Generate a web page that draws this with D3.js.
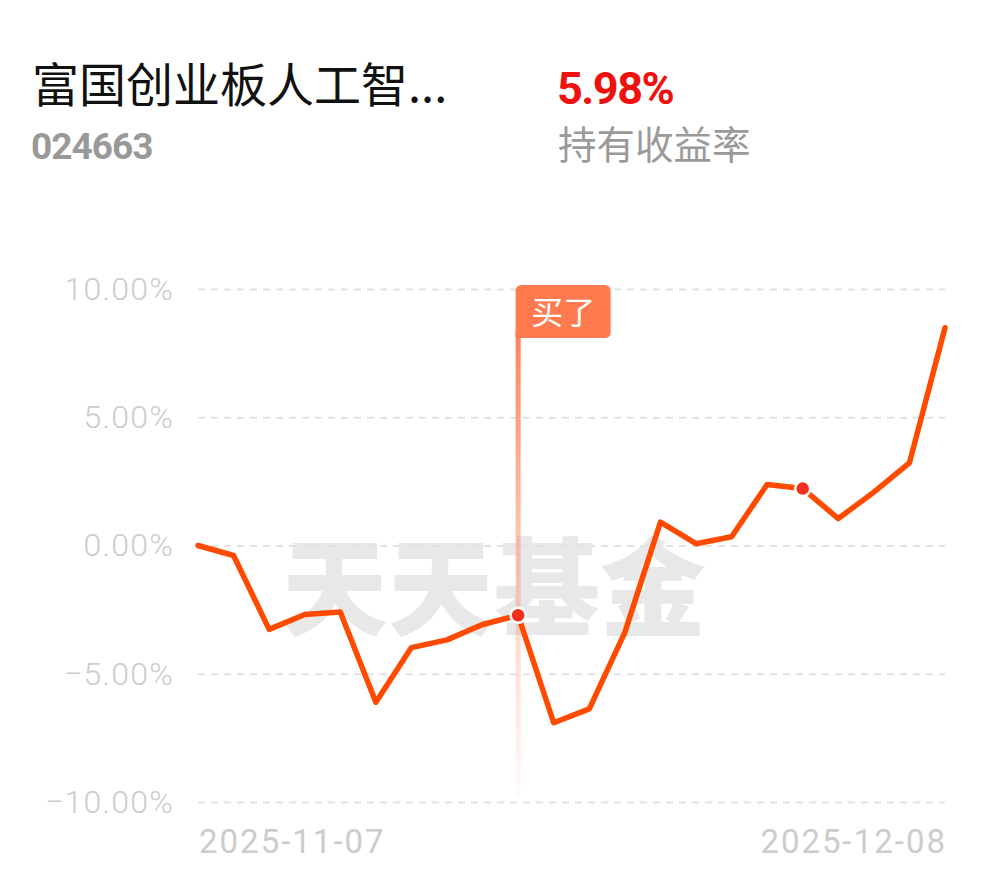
<!DOCTYPE html>
<html>
<head>
<meta charset="utf-8">
<script src="https://cdn.jsdelivr.net/npm/d3@7/dist/d3.min.js"></script>
<style>
  html, body { margin: 0; padding: 0; background: #fff; }
  svg { display: block; }
</style>
</head>
<body>
<svg id="chart" width="990" height="878"></svg>
<script>
// ---- data ----
const fundName = "富国创业板人工智...";
const fundCode = "024663";
const holdReturn = "5.98%";
const holdReturnLabel = "持有收益率";
const watermarkText = "天天基金";
const buyLabel = "买了";

const dates = ["2025-11-07","2025-11-10","2025-11-11","2025-11-12","2025-11-13","2025-11-14",
  "2025-11-17","2025-11-18","2025-11-19","2025-11-20","2025-11-21","2025-11-24","2025-11-25",
  "2025-11-26","2025-11-27","2025-11-28","2025-12-01","2025-12-02","2025-12-03","2025-12-04",
  "2025-12-05","2025-12-08"];
const returns = [0.00, -0.39, -3.27, -2.69, -2.59, -6.11, -3.98, -3.68, -3.08, -2.72, -6.91, -6.37,
  -3.39, 0.91, 0.07, 0.34, 2.38, 2.22, 1.05, 2.08, 3.22, 8.49];
const yTicks = [10, 5, 0, -5, -10];
const xTickLabels = ["2025-11-07", "2025-12-08"];
const buyIndex = 9;
const markerIndices = [9, 17];

(function () {
// ---- layout ----
const svg = d3.select("#chart");
const pL = 198, pR = 945, pT = 289, pB = 802;

const x = d3.scalePoint().domain(d3.range(dates.length)).range([pL, pR]);
const y = d3.scaleLinear().domain([-10, 10]).range([pB, pT]);

// header
svg.append("text").attr("x", 32).attr("y", 102)
  .attr("font-family", "'Noto Sans CJK SC', sans-serif").attr("font-size", 47)
  .attr("fill", "#111").text(fundName);
svg.append("text").attr("x", 31).attr("y", 159)
  .attr("font-family", "Roboto, sans-serif").attr("font-weight", "bold").attr("font-size", 37)
  .attr("letter-spacing", -1)
  .attr("fill", "#999").text(fundCode);
svg.append("text").attr("x", 557).attr("y", 104)
  .attr("font-family", "Roboto, sans-serif").attr("font-weight", "bold").attr("font-size", 45)
  .attr("letter-spacing", -1.5)
  .attr("fill", "#f01010").text(holdReturn);
svg.append("text").attr("x", 558).attr("y", 159)
  .attr("font-family", "'Noto Sans CJK SC', sans-serif").attr("font-size", 38.5)
  .attr("fill", "#9a9a9a").text(holdReturnLabel);

// watermark
svg.append("text").attr("x", 494).attr("y", 627)
  .attr("text-anchor", "middle")
  .attr("font-family", "'Noto Sans CJK SC', sans-serif").attr("font-weight", 900)
  .attr("font-size", 106)
  .attr("fill", "#e8e8e8").text(watermarkText);

// gridlines
const yAxis = d3.axisLeft(y).tickValues(yTicks).tickSize(-(pR - pL))
  .tickFormat(d => d3.format(".2f")(d) + "%");
const gy = svg.append("g").attr("transform", `translate(${pL},0)`).call(yAxis);
gy.select(".domain").remove();
gy.selectAll(".tick line").attr("stroke", "#e2e2e2").attr("stroke-width", 2)
  .attr("stroke-dasharray", "7,6");
gy.selectAll(".tick text").attr("x", -24)
  .attr("font-family", "Roboto, sans-serif").attr("font-weight", 300).attr("font-size", 32)
  .attr("letter-spacing", 1.2)
  .attr("fill", "#cccccc").text(d => (d < 0 ? "\u2212" + d3.format(".2f")(-d) : d3.format(".2f")(d)) + "%");

// x labels
const gx = svg.append("g");
gx.append("text").attr("x", x(0) + 1).attr("y", 853)
  .attr("font-family", "Roboto, sans-serif").attr("font-size", 33)
  .attr("fill", "#cccccc").attr("letter-spacing", 2).text(xTickLabels[0]);
gx.append("text").attr("x", x(dates.length - 1) + 2).attr("y", 853).attr("text-anchor", "end")
  .attr("font-family", "Roboto, sans-serif").attr("font-size", 33)
  .attr("fill", "#cccccc").attr("letter-spacing", 2).text(xTickLabels[1]);

// buy line gradient
const defs = svg.append("defs");
const grad = defs.append("linearGradient").attr("id", "buyGrad")
  .attr("x1", 0).attr("y1", 0).attr("x2", 0).attr("y2", 1);
grad.append("stop").attr("offset", "0%").attr("stop-color", "#ff7a4d").attr("stop-opacity", 0.95);
grad.append("stop").attr("offset", "45%").attr("stop-color", "#ff8a65").attr("stop-opacity", 0.5);
grad.append("stop").attr("offset", "100%").attr("stop-color", "#ff9a80").attr("stop-opacity", 0.05);

const bx = x(buyIndex);
svg.append("rect").attr("x", bx - 2.5).attr("y", 330).attr("width", 5).attr("height", 466)
  .attr("fill", "url(#buyGrad)");

// flag
const fx = bx - 2.5, fy = 285, fw = 95, fh = 53, r = 6;
svg.append("path")
  .attr("d", `M${fx},${fy + r} Q${fx},${fy} ${fx + r},${fy} L${fx + fw - r},${fy} Q${fx + fw},${fy} ${fx + fw},${fy + r}
    L${fx + fw},${fy + fh - r} Q${fx + fw},${fy + fh} ${fx + fw - r},${fy + fh} L${fx},${fy + fh} Z`)
  .attr("fill", "#ff7b4f");
svg.append("text").attr("x", fx + fw / 2).attr("y", fy + 39).attr("text-anchor", "middle")
  .attr("font-family", "'Noto Sans CJK SC', sans-serif").attr("font-size", 32)
  .attr("fill", "#fff").text(buyLabel);

// line
const line = d3.line().x((d, i) => x(i)).y(d => y(d));
svg.append("path").datum(returns).attr("d", line)
  .attr("fill", "none").attr("stroke", "#ff4a00").attr("stroke-width", 5.5)
  .attr("stroke-linejoin", "round").attr("stroke-linecap", "round");

// markers
svg.selectAll("circle.mk").data(markerIndices).enter().append("circle")
  .attr("class", "mk")
  .attr("cx", i => x(i)).attr("cy", i => y(returns[i])).attr("r", 7.5)
  .attr("fill", "#f0301c").attr("stroke", "#fff").attr("stroke-width", 2.5);
})();
</script>
</body>
</html>
